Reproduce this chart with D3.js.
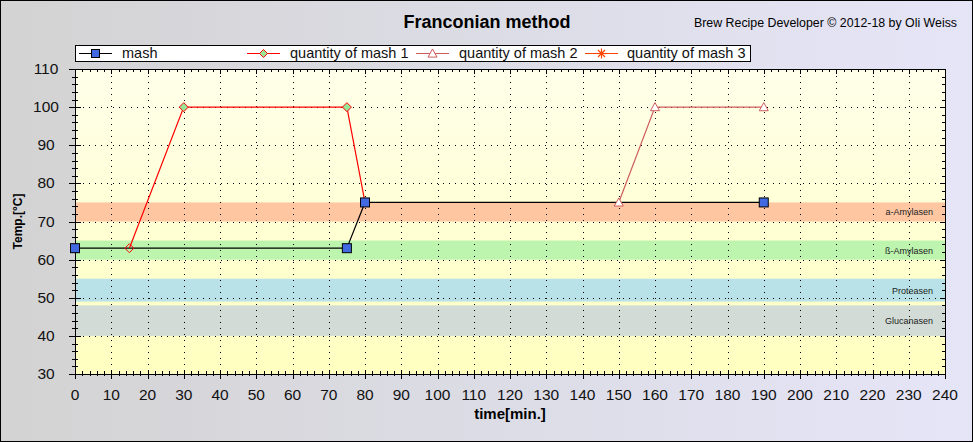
<!DOCTYPE html>
<html>
<head>
<meta charset="utf-8">
<script src="https://cdn.jsdelivr.net/npm/d3@7"></script>
<style>
  html,body{margin:0;padding:0;background:#fff;}
  svg{display:block;}
  text{font-family:Arial,"Liberation Sans",sans-serif;}
</style>
</head>
<body>
<svg id="chart" width="973" height="442"></svg>
<script>
// ---- data ----
const title = "Franconian method";
const credit = "Brew Recipe Developer \u00A9 2012-18 by Oli Weiss";
const xTitle = "time[min.]";
const yTitle = "Temp.[\u00B0C]";
const seriesNames = ["mash", "quantity of mash 1", "quantity of mash 2", "quantity of mash 3"];
const mashTime = [0, 75, 80, 190];
const mashTemp = [63, 63, 75, 75];
const mash1Time = [15, 30, 75, 80];
const mash1Temp = [63, 100, 100, 75];
const mash1Filled = [false, true, true, true];
const mash2Time = [150, 160, 190];
const mash2Temp = [75, 100, 100];
const mash3Time = [];
const mash3Temp = [];
const bandNames = ["a-Amylasen", "\u00DF-Amylasen", "Proteasen", "Glucanasen"];
const bandLow = [70, 60, 49, 40];
const bandHigh = [75, 65, 55, 48];
const xTicks = d3.range(0, 241, 10);
const yTicks = d3.range(30, 111, 10);

// ---- layout ----
const W = 973, H = 442;
const L = 75, R = 945, T = 69, B = 374;
const svg = d3.select("#chart");
const defs = svg.append("defs");

const bg = defs.append("linearGradient").attr("id","bg").attr("x1","0").attr("x2","1").attr("y1","0").attr("y2","0");
bg.append("stop").attr("offset","0").attr("stop-color","#d3d3d3");
bg.append("stop").attr("offset","1").attr("stop-color","#e5e5f8");
const pg = defs.append("linearGradient").attr("id","pg").attr("x1","0").attr("x2","0").attr("y1","0").attr("y2","1");
pg.append("stop").attr("offset","0").attr("stop-color","#ffffea");
pg.append("stop").attr("offset","1").attr("stop-color","#ffffc0");

svg.append("rect").attr("x",0.5).attr("y",0.5).attr("width",W-1).attr("height",H-1)
  .attr("fill","url(#bg)").attr("stroke","#000").attr("stroke-width",1);

const x = d3.scaleLinear().domain([0,240]).range([L,R]);
const y = d3.scaleLinear().domain([30,110]).range([B,T]);

// plot background
svg.append("rect").attr("x",L).attr("y",T).attr("width",R-L).attr("height",B-T).attr("fill","url(#pg)");

// bands
const bandColors = ["#ffc6a2", "#bdf4ae", "#b8e2e8", "#d2dbd6"];
const bands = svg.append("g");
bandNames.forEach((n,i)=>{
  bands.append("rect").attr("x",L).attr("width",R-L)
    .attr("y",y(bandHigh[i])).attr("height",y(bandLow[i])-y(bandHigh[i]))
    .attr("fill",bandColors[i]);
  bands.append("text").attr("x",933).attr("y",(y(bandHigh[i])+y(bandLow[i]))/2+3.5)
    .attr("text-anchor","end").attr("font-size",9).attr("fill","#222").text(n);
});

// grid
const grid = svg.append("g").attr("stroke","#000").attr("stroke-width",1).attr("stroke-dasharray","1,5");
xTicks.filter(t=>t>0&&t<240).forEach(t=>{
  grid.append("line").attr("x1",Math.round(x(t))+0.5).attr("x2",Math.round(x(t))+0.5).attr("y1",T+1).attr("y2",B);
});
yTicks.filter(t=>t>30&&t<110).forEach(t=>{
  grid.append("line").attr("y1",Math.round(y(t))+0.5).attr("y2",Math.round(y(t))+0.5).attr("x1",L+2).attr("x2",R);
});

// axes frame
const ax = svg.append("g").attr("stroke","#000").attr("stroke-width",1).attr("shape-rendering","crispEdges");
ax.append("rect").attr("x",L).attr("y",T).attr("width",R-L).attr("height",B-T).attr("fill","none");
const xMinor = d3.range(0,241,2), yMinor = d3.range(30,111,2);
xMinor.forEach(t=>{
  const major = t%10===0;
  const px = Math.round(x(t));
  ax.append("line").attr("x1",px).attr("x2",px).attr("y1",B-(major?4:3)).attr("y2",B+(major?5:2));
  ax.append("line").attr("x1",px).attr("x2",px).attr("y1",T).attr("y2",T+(major?5:3));
});
yMinor.forEach(t=>{
  const major = t%10===0;
  const py = Math.round(y(t));
  ax.append("line").attr("y1",py).attr("y2",py).attr("x1",L-(major?6:3)).attr("x2",L+(major?6:3));
  ax.append("line").attr("y1",py).attr("y2",py).attr("x1",R-(major?5:3)).attr("x2",R);
});

// tick labels
const tl = svg.append("g").attr("font-size",15.5).attr("fill","#111");
xTicks.forEach(t=>{
  tl.append("text").attr("x",x(t)).attr("y",400).attr("text-anchor","middle").text(t);
});
yTicks.forEach(t=>{
  tl.append("text").attr("x",46).attr("y",y(t)+5).attr("text-anchor","middle").text(t);
});

// axis titles
svg.append("text").attr("x",(L+R)/2).attr("y",419).attr("text-anchor","middle")
  .attr("font-size",15).attr("font-weight","bold").text(xTitle);
svg.append("text").attr("transform",`translate(22,${(T+B)/2}) rotate(-90)`).attr("text-anchor","middle")
  .attr("font-size",12).attr("font-weight","bold").text(yTitle);

// titles
svg.append("text").attr("x",487).attr("y",28).attr("text-anchor","middle")
  .attr("font-size",18).attr("font-weight","bold").text(title);
svg.append("text").attr("x",957).attr("y",27).attr("text-anchor","end")
  .attr("font-size",12).attr("textLength",263).attr("lengthAdjust","spacingAndGlyphs").text(credit);

// series lines
const line = d3.line().x(d=>x(d[0])).y(d=>y(d[1]));
const zip = (a,b)=>a.map((v,i)=>[v,b[i]]);
const mashPts = zip(mashTime, mashTemp);
const m1Pts = zip(mash1Time, mash1Temp);
const m2Pts = zip(mash2Time, mash2Temp);
const m3Pts = zip(mash3Time, mash3Temp);
const colors = {mash:"#000", m1:"#ff0000", m2:"#cd5c5c", m3:"#ff4500"};

svg.append("path").attr("d",line(mashPts)).attr("fill","none").attr("stroke",colors.mash).attr("stroke-width",1.2);
svg.append("path").attr("d",line(m1Pts)).attr("fill","none").attr("stroke",colors.m1).attr("stroke-width",1.2);
svg.append("path").attr("d",line(m2Pts)).attr("fill","none").attr("stroke",colors.m2).attr("stroke-width",1.2);
if (m3Pts.length) svg.append("path").attr("d",line(m3Pts)).attr("fill","none").attr("stroke",colors.m3);

// markers
function diamond(g,cx,cy,r,fill){
  g.append("path").attr("d",`M${cx},${cy-r}L${cx+r},${cy}L${cx},${cy+r}L${cx-r},${cy}Z`)
    .attr("fill",fill).attr("stroke",colors.m1).attr("stroke-width",1);
}
function triangle(g,cx,cy,r){
  g.append("path").attr("d",`M${cx},${cy-r}L${cx+r},${cy+r*0.8}L${cx-r},${cy+r*0.8}Z`)
    .attr("fill","#fff").attr("stroke",colors.m2).attr("stroke-width",1);
}
function square(g,cx,cy,s){
  g.append("rect").attr("x",cx-s/2).attr("y",cy-s/2).attr("width",s).attr("height",s)
    .attr("fill","#4169e1").attr("stroke","#000").attr("stroke-width",1);
}
function star(g,cx,cy,r){
  [0,45,90,135].forEach(a=>{
    const rad=a*Math.PI/180;
    g.append("line").attr("x1",cx-r*Math.cos(rad)).attr("x2",cx+r*Math.cos(rad))
      .attr("y1",cy-r*Math.sin(rad)).attr("y2",cy+r*Math.sin(rad)).attr("stroke",colors.m3).attr("stroke-width",1.2);
  });
}
const mk = svg.append("g");
m2Pts.forEach(p=>triangle(mk,x(p[0]),y(p[1]),4.5));
m1Pts.forEach((p,i)=>diamond(mk,x(p[0]),y(p[1]),4.5,mash1Filled[i]?"#98e598":"none"));
m3Pts.forEach(p=>star(mk,x(p[0]),y(p[1]),5));
mashPts.forEach(p=>square(mk,x(p[0]),y(p[1]),9));

// legend
const lg = svg.append("g");
lg.append("rect").attr("x",75.5).attr("y",45.5).attr("width",675).attr("height",16)
  .attr("fill","#fff").attr("stroke","#000").attr("stroke-width",1);
const legX = [79, 247, 416, 585];
const legTextX = [122, 290, 459, 627];
const legCol = [colors.mash, colors.m1, colors.m2, colors.m3];
const ly = 53.5;
seriesNames.forEach((n,i)=>{
  lg.append("line").attr("x1",legX[i]).attr("x2",legX[i]+33).attr("y1",ly).attr("y2",ly)
    .attr("stroke",legCol[i]).attr("stroke-width",1.2);
  const cx = legX[i]+16.5;
  if(i===0) square(lg,cx,ly,8);
  if(i===1) diamond(lg,cx,ly,4,"#98e598");
  if(i===2) triangle(lg,cx,ly,4.5);
  if(i===3) star(lg,cx,ly,5);
  lg.append("text").attr("x",legTextX[i]).attr("y",58).attr("font-size",14.5).attr("fill","#111").text(n);
});
</script>
</body>
</html>
